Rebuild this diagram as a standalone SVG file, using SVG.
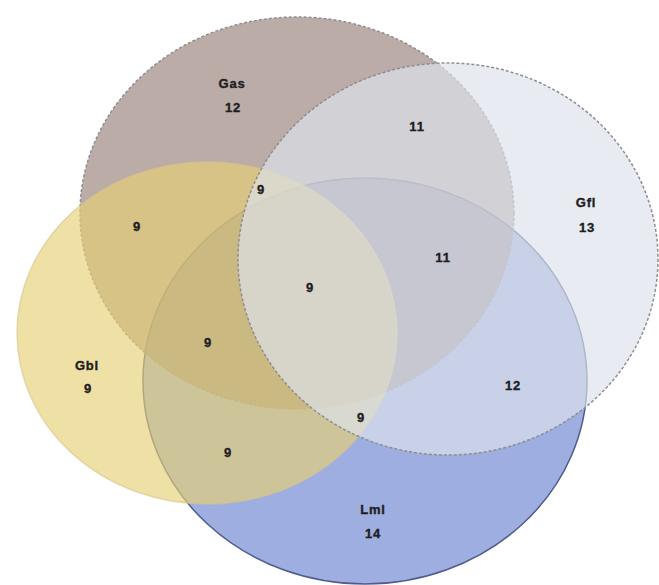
<svg xmlns="http://www.w3.org/2000/svg" width="659" height="585" viewBox="0 0 659 585">
  <style>
    .set { stroke-width: 1.5; }
    .dashed { stroke: #8e8e92; stroke-dasharray: 3 2; }
    .lbl { font-family: "Liberation Sans", Arial, sans-serif; font-weight: bold; font-size: 13px; letter-spacing: 0.8px; fill: #1e1e22; stroke: #1e1e22; stroke-width: 0.35; text-anchor: middle; dominant-baseline: central; }
  </style>
  <rect width="659" height="585" fill="#ffffff"/>

  <!-- set ellipses, drawn bottom to top -->
  <g id="set-lml">
    <ellipse class="set" cx="365" cy="381" rx="222" ry="203" fill="#6a83d0" fill-opacity="0.65" stroke="#4f5c8c"/>
  </g>
  <g id="set-gas">
    <ellipse class="set dashed" cx="297" cy="213" rx="217" ry="196" fill="#978078" fill-opacity="0.65"/>
  </g>
  <g id="set-gbl">
    <ellipse class="set" cx="207" cy="333" rx="190" ry="171" fill="#e7d075" fill-opacity="0.65" stroke="#d8c58a" stroke-opacity="0.6"/>
  </g>
  <g id="set-gfl">
    <ellipse class="set dashed" cx="448" cy="259" rx="210" ry="196" fill="#dde3ec" fill-opacity="0.67"/>
  </g>

  <!-- set names and region counts -->
  <g id="labels">
    <text class="lbl" x="232" y="83">Gas</text>
    <text class="lbl" x="233" y="107">12</text>
    <text class="lbl" x="586" y="202">Gfl</text>
    <text class="lbl" x="587" y="227">13</text>
    <text class="lbl" x="87" y="365">Gbl</text>
    <text class="lbl" x="88" y="388">9</text>
    <text class="lbl" x="373" y="509">Lml</text>
    <text class="lbl" x="373" y="533">14</text>
    <text class="lbl" x="417" y="126">11</text>
    <text class="lbl" x="137" y="226">9</text>
    <text class="lbl" x="261" y="189">9</text>
    <text class="lbl" x="443" y="257">11</text>
    <text class="lbl" x="310" y="287">9</text>
    <text class="lbl" x="208" y="342">9</text>
    <text class="lbl" x="513" y="385">12</text>
    <text class="lbl" x="361" y="417">9</text>
    <text class="lbl" x="228" y="452">9</text>
  </g>
</svg>
